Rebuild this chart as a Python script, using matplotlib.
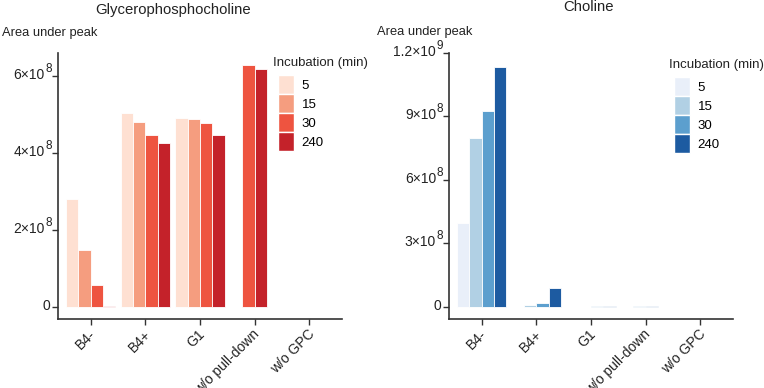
import numpy as np
import matplotlib.pyplot as plt
from matplotlib.patches import Patch
from matplotlib.transforms import offset_copy

plt.rcParams['font.family'] = ['Liberation Sans', 'DejaVu Sans']

groups = ["B4-", "B4+", "G1", "w/o pull-down", "w/o GPC"]
times = ["5", "15", "30", "240"]
nan = np.nan

# Glycerophosphocholine, area under peak (x1e8), rows = incubation time
gpc = np.array([
    [2.80, 5.04, 4.91, nan, nan],
    [1.48, 4.80, 4.88, nan, nan],
    [0.57, 4.47, 4.78, 6.29, 0.01],
    [0.02, 4.26, 4.47, 6.20, 0.01],
]) * 1e8

# Choline, area under peak (x1e8)
cho = np.array([
    [3.98, 0.02, 0.01, nan, nan],
    [7.97, 0.10, 0.02, nan, nan],
    [9.28, 0.17, 0.04, 0.04, 0.02],
    [11.34, 0.88, 0.07, 0.07, 0.02],
]) * 1e8

reds = ["#FEE0D2", "#F59D7F", "#EE5440", "#C4222A"]
blues = ["#E9EFF9", "#B1D0E4", "#5C9FCE", "#1D5BA1"]

# y tick labels: mantissa text and exponent
gpc_ticks = [0, 2e8, 4e8, 6e8]
gpc_base = ["0", "2×10", "4×10", "6×10"]
gpc_exp = ["", "8", "8", "8"]
cho_ticks = [0, 3e8, 6e8, 9e8, 12e8]
cho_base = ["0", "3×10", "6×10", "9×10", "1.2×10"]
cho_exp = ["", "8", "8", "8", "9"]

fig = plt.figure(figsize=(7.64, 3.88), dpi=100)
ax1 = fig.add_axes([58 / 764, 69 / 388, 284 / 764, 266 / 388])
ax2 = fig.add_axes([449 / 764, 69 / 388, 284 / 764, 266 / 388])

bw = 0.9 / 4
axcol = "#333333"
txtcol = "#222222"


def draw(ax, vals, colors, ticks, base, exps):
    x = np.arange(1, len(groups) + 1)
    for j, g in enumerate(groups):
        present = [i for i in range(len(times)) if not np.isnan(vals[i, j])]
        n = len(present)
        for k, i in enumerate(present):
            ax.bar(x[j] + (k - (n - 1) / 2) * bw, vals[i, j], width=bw,
                   color=colors[i], edgecolor="white", linewidth=0.6)
    top = np.nanmax(vals)
    ax.set_ylim(-0.05 * top, top * 1.05)
    ax.set_xlim(0.4, len(groups) + 0.6)
    ax.set_xticks(x)
    ax.set_xticklabels([])
    xtr = offset_copy(ax.get_xaxis_transform(), fig=fig, x=3, y=-13, units="dots")
    for xi, g in zip(x, groups):
        ax.text(xi, 0, g, transform=xtr, rotation=45, ha="right", va="center",
                rotation_mode="anchor", fontsize=10, color=txtcol, clip_on=False)
    ax.set_yticks(ticks)
    ax.set_yticklabels([])
    tr = ax.get_yaxis_transform()
    for t, b, e in zip(ticks, base, exps):
        if e:
            ax.text(0, t, e, transform=offset_copy(tr, fig=fig, x=-6, y=7, units="dots"),
                    ha="right", va="center", fontsize=8.5, color=txtcol)
            ax.text(0, t, b, transform=offset_copy(tr, fig=fig, x=-13, y=1, units="dots"),
                    ha="right", va="center", fontsize=10, color=txtcol)
        else:
            ax.text(0, t, b, transform=offset_copy(tr, fig=fig, x=-8, y=1, units="dots"),
                    ha="right", va="center", fontsize=10, color=txtcol)
    for s in ["top", "right"]:
        ax.spines[s].set_visible(False)
    for s in ["left", "bottom"]:
        ax.spines[s].set_color(axcol)
        ax.spines[s].set_linewidth(1.2)
    ax.tick_params(axis="both", color=axcol, length=4, width=1)
    handles = [Patch(facecolor=c, edgecolor="white", label=t)
               for c, t in zip(colors, times)]
    return handles


h1 = draw(ax1, gpc, reds, gpc_ticks, gpc_base, gpc_exp)
h2 = draw(ax2, cho, blues, cho_ticks, cho_base, cho_exp)

for h, tx, ty in [(h1, 273, 63), (h2, 669, 65)]:
    fig.text(tx / 764, 1 - ty / 388, "Incubation (min)", ha="left", va="center",
             fontsize=9.5, color=txtcol)
    fig.legend(handles=h, loc="upper left",
               bbox_to_anchor=((tx + 5) / 764, 1 - (ty + 12) / 388), frameon=False,
               fontsize=9.5, handlelength=1.25, handleheight=1.85,
               labelspacing=0.0, handletextpad=0.55, borderpad=0.0,
               borderaxespad=0)

fig.text(173 / 764, 1 - 10 / 388, "Glycerophosphocholine", ha="center",
         va="center", fontsize=10.7, color=txtcol)
fig.text(589 / 764, 1 - 7 / 388, "Choline", ha="center", va="center",
         fontsize=10.7, color=txtcol)
fig.text(2 / 764, 1 - 33 / 388, "Area under peak", ha="left", va="center",
         fontsize=9.3, color=txtcol)
fig.text(377 / 764, 1 - 32 / 388, "Area under peak", ha="left", va="center",
         fontsize=9.3, color=txtcol)

fig.savefig("out.png", dpi=100)
